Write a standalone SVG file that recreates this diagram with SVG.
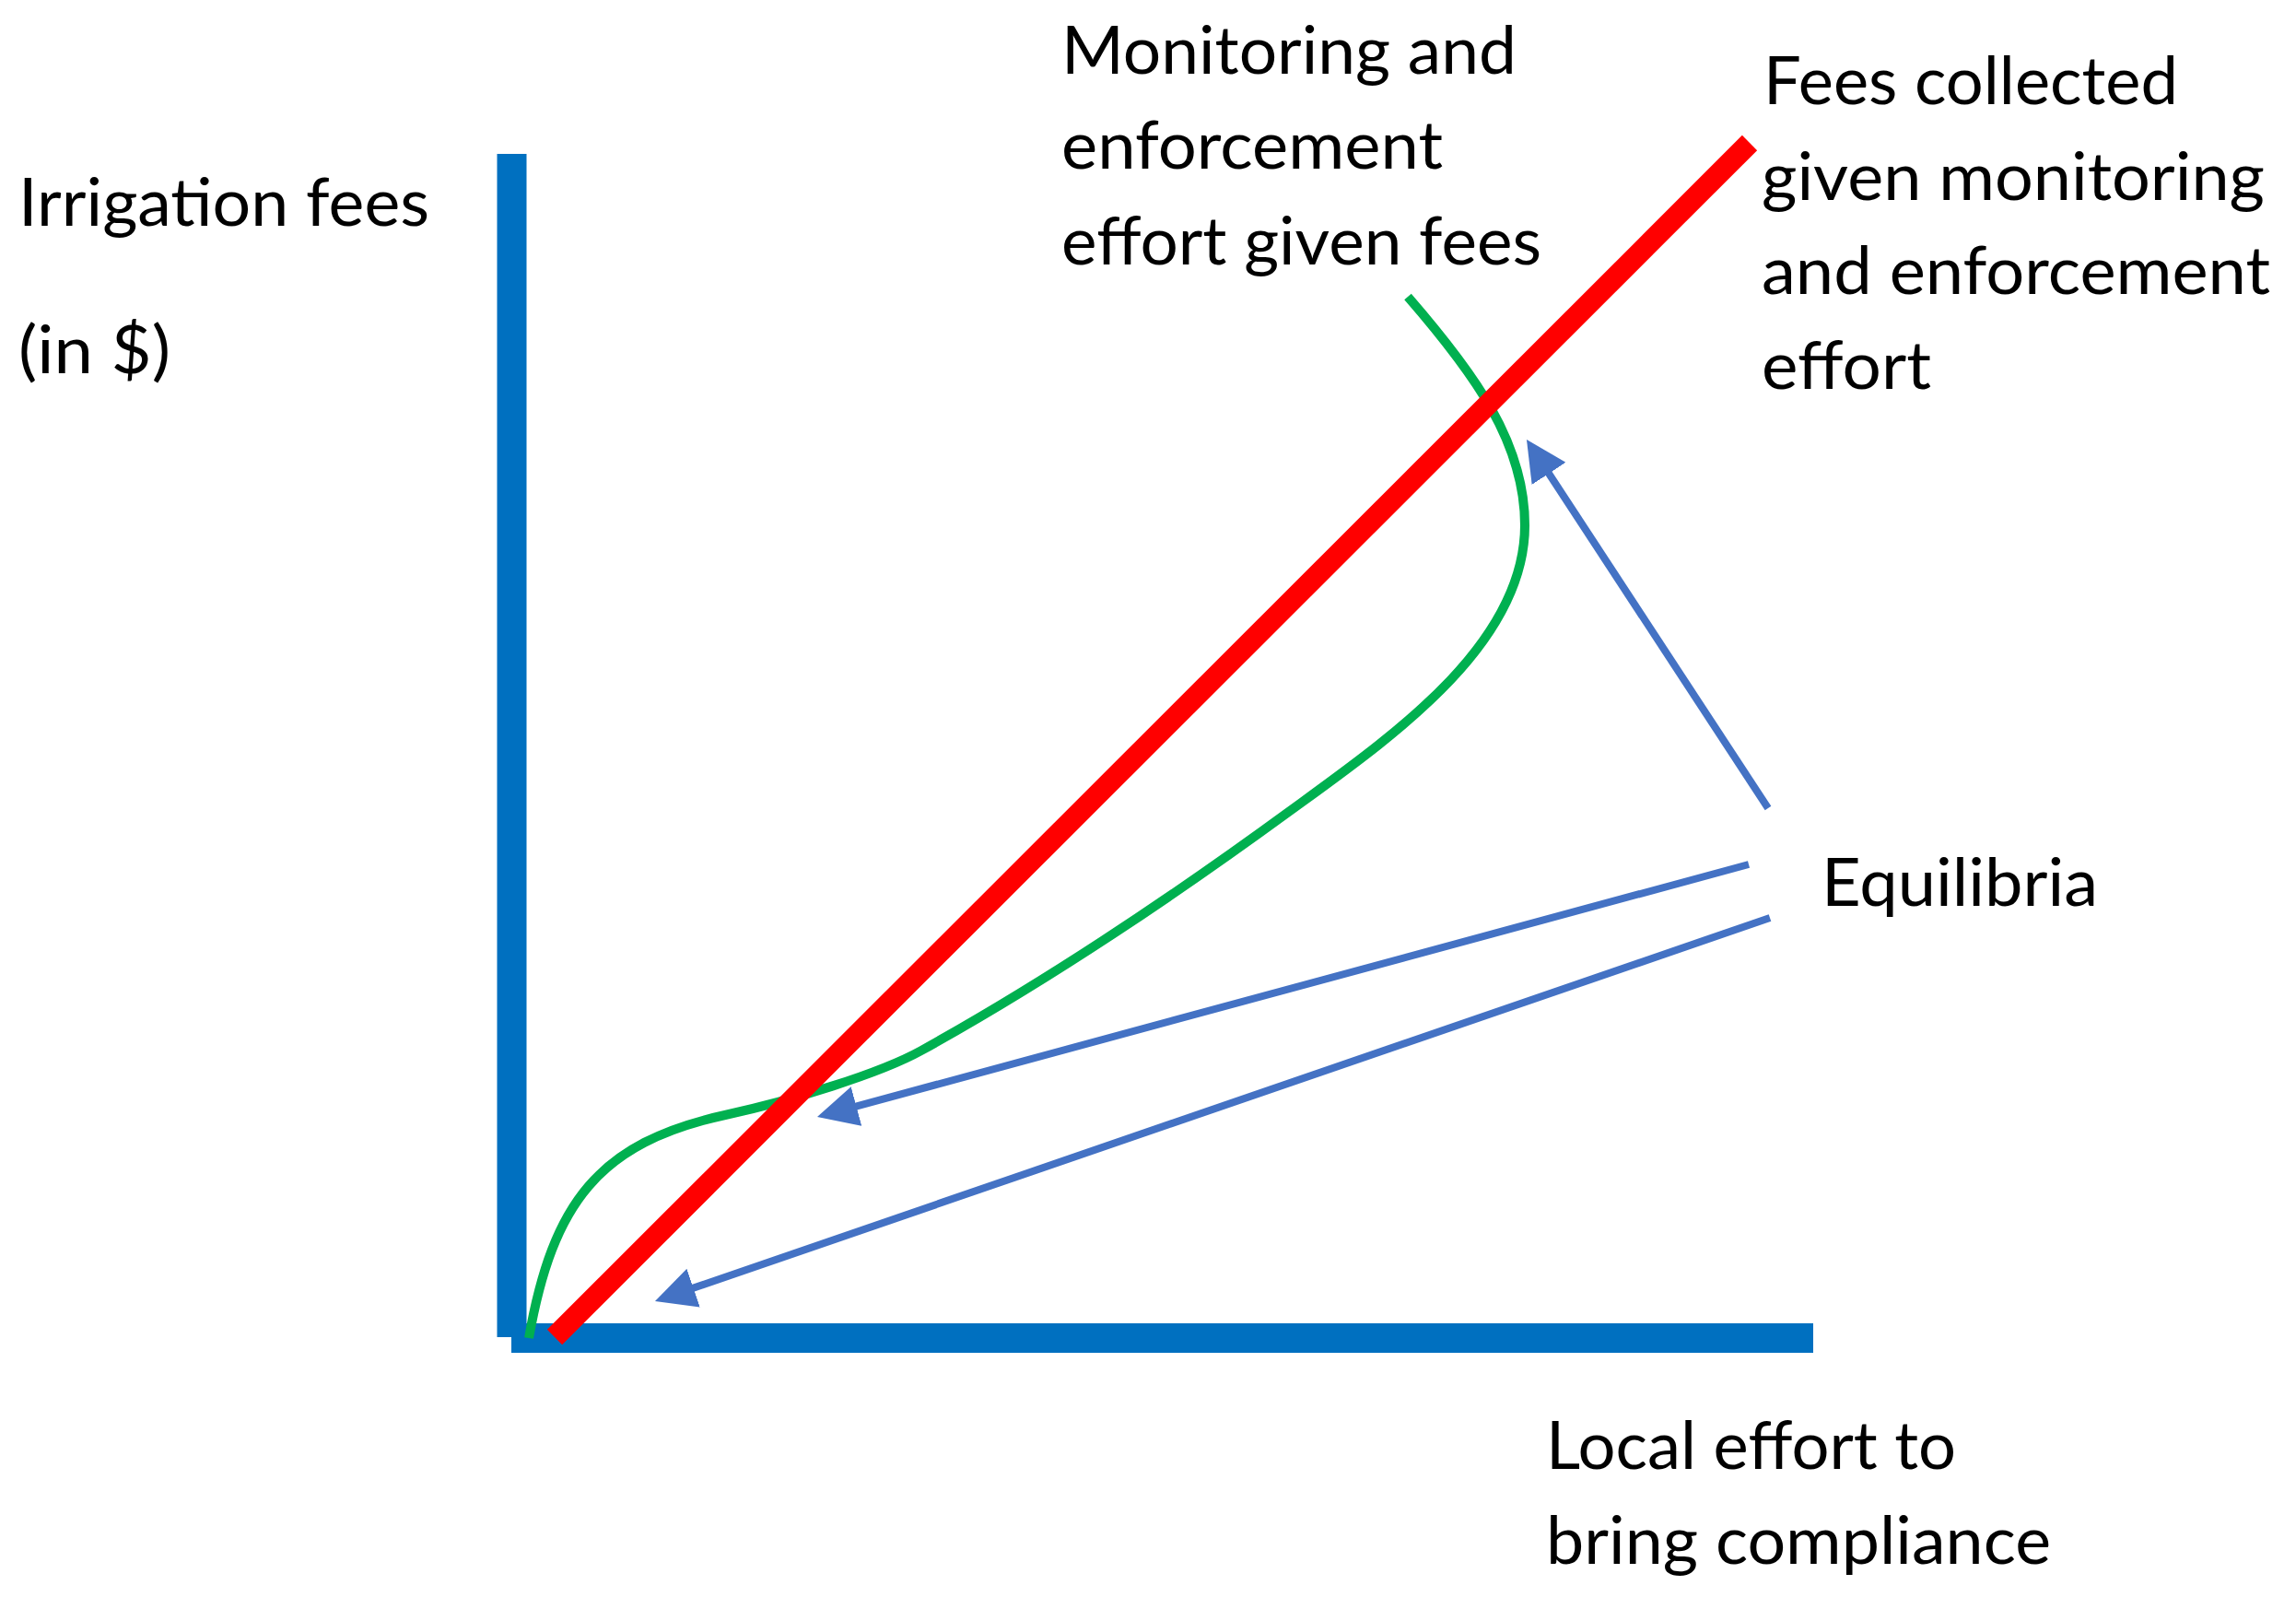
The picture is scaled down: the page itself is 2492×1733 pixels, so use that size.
<svg xmlns="http://www.w3.org/2000/svg" width="2492" height="1733" viewBox="0 0 2492 1733">
  <style>
    .lbl { font-family: Lato, "Liberation Sans", sans-serif; font-size: 72px; fill: #000000; }
    .axis { stroke: #0070C0; stroke-width: 32; fill: none; stroke-linecap: butt; }
    .arrow { stroke: #4472C4; stroke-width: 8; fill: none; marker-end: url(#ah); }
  </style>
  <defs>
    <marker id="ah" markerUnits="userSpaceOnUse" viewBox="0 0 44 44" markerWidth="44" markerHeight="44" refX="10" refY="22" orient="auto">
      <path d="M0,0 L44,22 L0,44 Z" fill="#4472C4"/>
    </marker>
  </defs>
  <rect width="2492" height="1733" fill="#ffffff"/>

  <g id="axes">
    <line class="axis" x1="555.5" y1="167" x2="555.5" y2="1451"/>
    <line class="axis" x1="555" y1="1452" x2="1968" y2="1452"/>
  </g>

  <g id="curve-monitoring">
    <path d="M574,1452 C600,1305 650,1240 787,1210 C860,1194 955,1165 1000,1140 C1130,1068 1270,975 1400,880 C1510,800 1655,700 1655,570 C1655,480 1600,405 1528,322" fill="none" stroke="#00B050" stroke-width="10"/>
  </g>

  <g id="line-fees">
    <line x1="602" y1="1451" x2="1899" y2="155" stroke="#FF0000" stroke-width="23"/>
  </g>

  <g id="connectors">
    <line class="arrow" x1="1919" y1="877" x2="1675.6" y2="505.5"/>
    <line class="arrow" x1="1898" y1="938" x2="919.8" y2="1203.1"/>
    <line class="arrow" x1="1921" y1="996" x2="743.1" y2="1400.9"/>
  </g>

  <g id="label-yaxis">
    <text class="lbl" x="20" y="245" textLength="446" lengthAdjust="spacingAndGlyphs">Irrigation fees</text>
    <text class="lbl" x="20" y="405" textLength="165" lengthAdjust="spacingAndGlyphs">(in $)</text>
  </g>
  <g id="label-monitoring">
    <text class="lbl" x="1152" y="80" textLength="494" lengthAdjust="spacingAndGlyphs">Monitoring and</text>
    <text class="lbl" x="1152" y="183" textLength="414" lengthAdjust="spacingAndGlyphs">enforcement</text>
    <text class="lbl" x="1152" y="287" textLength="521" lengthAdjust="spacingAndGlyphs">effort given fees</text>
  </g>
  <g id="label-fees">
    <text class="lbl" x="1914" y="113" textLength="450" lengthAdjust="spacingAndGlyphs">Fees collected</text>
    <text class="lbl" x="1912" y="217" textLength="546" lengthAdjust="spacingAndGlyphs">given monitoring</text>
    <text class="lbl" x="1912" y="319" textLength="552" lengthAdjust="spacingAndGlyphs">and enforcement</text>
    <text class="lbl" x="1912" y="422" textLength="184" lengthAdjust="spacingAndGlyphs">effort</text>
  </g>
  <g id="label-equilibria">
    <text class="lbl" x="1977" y="983" textLength="300" lengthAdjust="spacingAndGlyphs">Equilibria</text>
  </g>
  <g id="label-xaxis">
    <text class="lbl" x="1678" y="1594" textLength="445" lengthAdjust="spacingAndGlyphs">Local effort to</text>
    <text class="lbl" x="1678" y="1697" textLength="548" lengthAdjust="spacingAndGlyphs">bring compliance</text>
  </g>
</svg>
